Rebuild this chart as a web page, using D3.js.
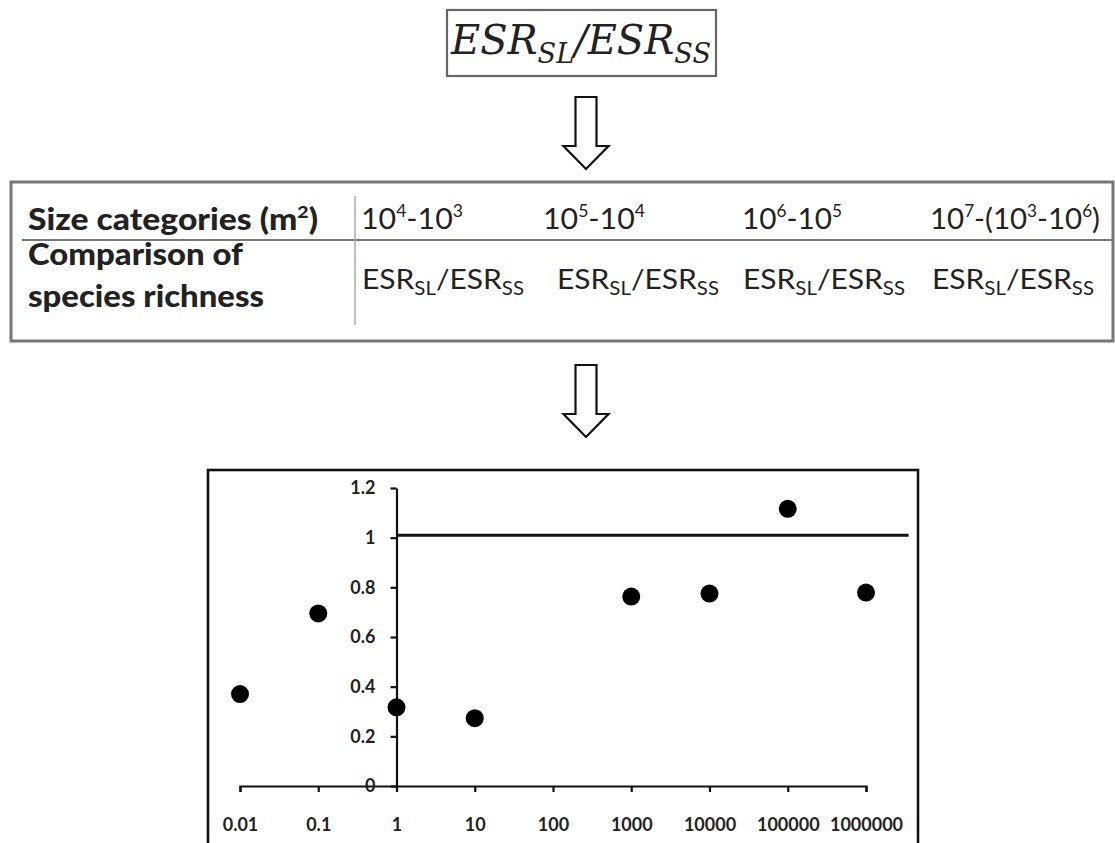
<!DOCTYPE html>
<html>
<head>
<meta charset="utf-8">
<script src="https://d3js.org/d3.v7.min.js"></script>
<style>
  body { margin: 0; background: #fff; }
  svg { display: block; }
  .tbl { font-family: Lato, "Open Sans", sans-serif; fill: #222; }
  .axis text { font-family: Lato, sans-serif; font-weight: bold; font-size: 18px; fill: #222; }
  .axis path, .axis line { stroke: #111; stroke-width: 2.2; }
</style>
</head>
<body>
<svg width="1115" height="843"></svg>
<script>
// table contents
const rowHeaders = ["Size categories (m^2)", "Comparison of", "species richness"];
const sizeCategories = ["10^4-10^3", "10^5-10^4", "10^6-10^5", "10^7-(10^3-10^6)"];
const comparisons = ["ESR_SL/ESR_SS", "ESR_SL/ESR_SS", "ESR_SL/ESR_SS", "ESR_SL/ESR_SS"];

// scatter data
const xTicks = [0.01, 0.1, 1, 10, 100, 1000, 10000, 100000, 1000000];
const yTicks = [0, 0.2, 0.4, 0.6, 0.8, 1, 1.2];
const areaSize = [0.01, 0.1, 1, 10, 1000, 10000, 100000, 1000000];
const ratio = [0.37, 0.695, 0.317, 0.273, 0.763, 0.775, 1.116, 0.779];
const refX = [1, 3500000];
const refY = [1.01, 1.01];

const svg = d3.select("svg");

// write text with ^sup and _sub markers as tspans
function richText(sel, str, size) {
  const parts = str.split(/([\^_][A-Za-z0-9]+)/).filter(s => s.length);
  let shift = 0;
  parts.forEach(p => {
    let dy = 0, fs = size, txt = p;
    if (p[0] === "^") { dy = -0.4 * size; fs = size * 0.58; txt = p.slice(1); }
    else if (p[0] === "_") { dy = 0.22 * size; fs = size * 0.68; txt = p.slice(1); }
    sel.append("tspan").attr("dy", dy - shift).attr("font-size", fs).text(txt);
    shift = dy;
  });
}

function arrow(cx, top) {
  const sw = 10.5, hw = 22.5, len = 72, hh = 23;
  const p = d3.path();
  p.moveTo(cx - sw, top);
  p.lineTo(cx + sw, top);
  p.lineTo(cx + sw, top + len - hh);
  p.lineTo(cx + hw, top + len - hh);
  p.lineTo(cx, top + len);
  p.lineTo(cx - hw, top + len - hh);
  p.lineTo(cx - sw, top + len - hh);
  p.closePath();
  svg.append("path").attr("d", p.toString())
    .attr("fill", "#fff").attr("stroke", "#111").attr("stroke-width", 2.2);
}

// title box
svg.append("rect").attr("x", 447).attr("y", 10).attr("width", 269).attr("height", 66)
  .attr("fill", "#fff").attr("stroke", "#666").attr("stroke-width", 2.2);
const title = svg.append("text").attr("x", 451).attr("y", 54)
  .attr("font-family", "'DejaVu Serif', serif").attr("font-style", "italic")
  .attr("fill", "#222").attr("textLength", 260).attr("lengthAdjust", "spacingAndGlyphs");
richText(title, "ESR_SL/ESR_SS", 41);

arrow(586, 97);

// table
svg.append("rect").attr("x", 11).attr("y", 182).attr("width", 1102).attr("height", 159)
  .attr("fill", "none").attr("stroke", "#777").attr("stroke-width", 3);
svg.append("line").attr("x1", 22).attr("x2", 1113).attr("y1", 240).attr("y2", 240)
  .attr("stroke", "#777").attr("stroke-width", 2.2);
svg.append("line").attr("x1", 355).attr("x2", 355).attr("y1", 196).attr("y2", 325)
  .attr("stroke", "#aaa").attr("stroke-width", 1.5);

const headerY = [230, 265, 307];
const headerW = [290, 215, 236];
rowHeaders.forEach((s, i) => {
  const t = svg.append("text").attr("class", "tbl").attr("x", 28).attr("y", headerY[i])
    .attr("font-weight", 900)
    .attr("textLength", headerW[i]).attr("lengthAdjust", "spacingAndGlyphs");
  richText(t, s, 30);
});

const catX = [361, 543, 742, 930];
const catW = [102, 102, 100, 170];
sizeCategories.forEach((s, i) => {
  const t = svg.append("text").attr("class", "tbl").attr("x", catX[i]).attr("y", 229)
    .attr("textLength", catW[i]).attr("lengthAdjust", "spacingAndGlyphs");
  richText(t, s, 29);
});
const cmpX = [362, 557, 743, 932];
comparisons.forEach((s, i) => {
  const t = svg.append("text").attr("class", "tbl").attr("x", cmpX[i]).attr("y", 289)
    .attr("textLength", 162).attr("lengthAdjust", "spacingAndGlyphs");
  richText(t, s, 27);
});

arrow(586, 365);

// scatter chart
svg.append("rect").attr("x", 208).attr("y", 470).attr("width", 710).attr("height", 390)
  .attr("fill", "#fff").attr("stroke", "#111").attr("stroke-width", 2.6);

const x = d3.scaleLog().domain([0.01, 1000000]).range([240, 866]);
const y = d3.scaleLinear().domain([0, 1.2]).range([786, 488]);

svg.append("g").attr("class", "axis")
  .attr("transform", `translate(0,${y(0)})`)
  .call(d3.axisBottom(x).tickValues(xTicks).tickSize(6).tickSizeOuter(6)
    .tickFormat(d => d >= 1 ? d3.format("d")(d) : String(d)))
  .call(g => g.selectAll("text").attr("y", 32));

svg.append("g").attr("class", "axis")
  .attr("transform", `translate(${x(1)},0)`)
  .call(d3.axisLeft(y).tickValues(yTicks).tickSize(6).tickSizeOuter(0)
    .tickFormat(d => String(+d.toFixed(1))))
  .call(g => g.selectAll("text").attr("x", -21));

svg.append("path")
  .datum(refX.map((v, i) => [v, refY[i]]))
  .attr("d", d3.line().x(d => x(d[0])).y(d => y(d[1])))
  .attr("stroke", "#111").attr("stroke-width", 3).attr("fill", "none");

svg.append("g").selectAll("circle")
  .data(areaSize.map((v, i) => ({ a: v, r: ratio[i] })))
  .join("circle")
  .attr("cx", d => x(d.a)).attr("cy", d => y(d.r)).attr("r", 9)
  .attr("fill", "#000");
</script>
</body>
</html>
